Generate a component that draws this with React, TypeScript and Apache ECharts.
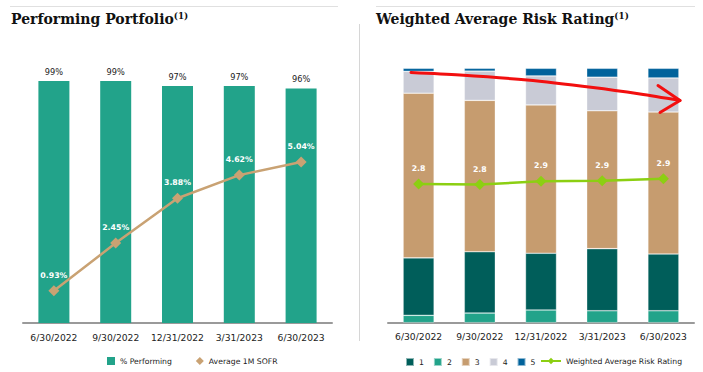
import React, { useEffect, useRef } from "react";
import * as echarts from "echarts";

const categories = ["6/30/2022", "9/30/2022", "12/31/2022", "3/31/2023", "6/30/2023"];
const performingPct = [99, 99, 97, 97, 96];
const sofrPct = [0.93, 2.45, 3.88, 4.62, 5.04];
const rating1 = [22.6, 24.1, 22.3, 24.4, 22.3];
const rating2 = [2.9, 3.8, 5.0, 4.7, 4.7];
const rating3 = [64.7, 59.5, 58.3, 54.2, 55.8];
const rating4 = [8.6, 11.5, 11.4, 13.2, 13.4];
const rating5 = [1.2, 1.1, 3.0, 3.5, 3.8];
const weightedAvgRating = [2.8, 2.79, 2.86, 2.87, 2.91];

const SANS = "DejaVu Sans";
const SERIF = "DejaVu Serif";

const C_TEAL = "#22A38A";
const C_DARK = "#005E5A";
const C_TAN = "#C69C6F";
const C_LAV = "#C9CBD6";
const C_BLUE = "#00629B";
const C_SOFR = "#C9A273";
const C_GREEN = "#8CCF12";

function buildOption(): any {
  const axisLabel = { interval: 0, margin: 10, fontSize: 9.2, color: "#222", fontFamily: SANS };
  const axisLine = { lineStyle: { color: "#9A9A9A", width: 2 } };
  const whiteLabel = {
    show: true,
    position: "top",
    distance: 6,
    color: "#fff",
    fontFamily: SANS,
    fontWeight: "bold",
    fontSize: 7.8,
  };
  const stackBar = (name: string, data: number[], color: string) => ({
    name,
    type: "bar",
    stack: "rating",
    xAxisIndex: 1,
    yAxisIndex: 2,
    barWidth: 31,
    data,
    itemStyle: { color, borderColor: "rgba(255,255,255,0.55)", borderWidth: 0.6 },
  });
  const titleRich = {
    t: { fontFamily: SERIF, fontWeight: "bold", fontSize: 14, fill: "#111", color: "#111" },
    s: { fontFamily: SERIF, fontWeight: "bold", fontSize: 8.8, fill: "#111", color: "#111", verticalAlign: "top" },
  };
  const legendText = { fontFamily: SANS, fontSize: 7.7, color: "#222" };
  return {
    animation: false,
    backgroundColor: "#fff",
    grid: [
      { left: 23, top: 78.6, width: 309, height: 244.4 },
      { left: 388, top: 68.3, width: 306, height: 254.4 },
    ],
    xAxis: [
      { gridIndex: 0, type: "category", data: categories, axisLine, axisTick: { show: false }, axisLabel },
      { gridIndex: 1, type: "category", data: categories, axisLine, axisTick: { show: false }, axisLabel: { ...axisLabel, margin: 9.5 } },
    ],
    yAxis: [
      { gridIndex: 0, type: "value", min: 0, max: 100, show: false },
      { gridIndex: 0, type: "value", min: -0.1, max: 7.7, show: false },
      { gridIndex: 1, type: "value", min: 0, max: 100, show: false },
      { gridIndex: 1, type: "value", min: 0, max: 5.14, show: false },
    ],
    legend: [
      {
        left: 107,
        top: 357,
        padding: 0,
        itemWidth: 8,
        itemHeight: 8,
        itemGap: 24,
        selectedMode: false,
        textStyle: legendText,
        data: [
          { name: "% Performing", icon: "rect" },
          { name: "Average 1M SOFR", icon: "diamond" },
        ],
      },
      {
        left: 405,
        top: 357,
        padding: 0,
        itemWidth: 8,
        itemHeight: 8,
        itemGap: 9,
        selectedMode: false,
        textStyle: legendText,
        data: ["1", "2", "3", "4", "5"].map((n) => ({ name: n, icon: "rect" })),
      },
      {
        left: 540,
        top: 357,
        padding: 0,
        itemWidth: 20,
        itemHeight: 8,
        selectedMode: false,
        textStyle: legendText,
        data: ["Weighted Average Risk Rating"],
      },
    ],
    series: [
      {
        name: "% Performing",
        type: "bar",
        xAxisIndex: 0,
        yAxisIndex: 0,
        barWidth: 31,
        data: performingPct,
        itemStyle: { color: C_TEAL },
        label: {
          show: true,
          position: "top",
          distance: 5,
          formatter: "{c}%",
          color: "#222",
          fontFamily: SANS,
          fontSize: 8.2,
        },
      },
      {
        name: "Average 1M SOFR",
        type: "line",
        xAxisIndex: 0,
        yAxisIndex: 1,
        data: sofrPct,
        symbol: "diamond",
        symbolSize: 11,
        itemStyle: { color: C_SOFR },
        lineStyle: { color: C_SOFR, width: 2.5 },
        label: { ...whiteLabel, formatter: (p: any) => p.value.toFixed(2) + "%" },
        z: 5,
      },
      stackBar("2", rating2, C_TEAL),
      stackBar("1", rating1, C_DARK),
      stackBar("3", rating3, C_TAN),
      stackBar("4", rating4, C_LAV),
      stackBar("5", rating5, C_BLUE),
      {
        name: "Weighted Average Risk Rating",
        type: "line",
        xAxisIndex: 1,
        yAxisIndex: 3,
        data: weightedAvgRating,
        symbol: "diamond",
        symbolSize: 11,
        itemStyle: { color: C_GREEN },
        lineStyle: { color: C_GREEN, width: 2.5 },
        label: { ...whiteLabel, formatter: (p: any) => p.value.toFixed(1) },
        z: 5,
      },
    ],
    graphic: [
      { type: "line", shape: { x1: 10, y1: 6.5, x2: 338, y2: 6.5 }, style: { stroke: "#E0E0E0", lineWidth: 1 }, silent: true },
      { type: "line", shape: { x1: 376, y1: 6.5, x2: 695, y2: 6.5 }, style: { stroke: "#E0E0E0", lineWidth: 1 }, silent: true },
      { type: "line", shape: { x1: 359.5, y1: 24, x2: 359.5, y2: 341 }, style: { stroke: "#D6D6D6", lineWidth: 1 }, silent: true },
      {
        type: "text",
        x: 11,
        y: 11.5,
        style: { text: "{t|Performing Portfolio}{s|(1)}", rich: titleRich, verticalAlign: "top" },
        silent: true,
      },
      {
        type: "text",
        x: 376,
        y: 11.5,
        style: { text: "{t|Weighted Average Risk Rating}{s|(1)}", rich: titleRich, verticalAlign: "top" },
        silent: true,
      },
      {
        type: "polyline",
        z: 100,
        shape: {
          points: [
            [411, 72.5],
            [460, 75],
            [527, 80],
            [593, 87.5],
            [640, 94],
            [680, 100.5],
          ],
          smooth: 0.3,
        },
        style: { stroke: "#F20F0F", lineWidth: 3, fill: null, lineCap: "round", lineJoin: "round" },
        silent: true,
      },
      {
        type: "polyline",
        z: 100,
        shape: { points: [[658, 85.5], [680, 100.5], [660, 112.5]] },
        style: { stroke: "#F20F0F", lineWidth: 3, fill: null, lineCap: "round", lineJoin: "round" },
        silent: true,
      },
    ],
  };
}

export default function App() {
  const ref = useRef<HTMLDivElement>(null);
  useEffect(() => {
    if (!ref.current) return;
    const chart = echarts.init(ref.current, null, { renderer: "svg" });
    chart.setOption(buildOption());
    return () => chart.dispose();
  }, []);
  return (
    <div
      ref={ref}
      style={{ position: "fixed", left: 0, top: 0, width: 703, height: 372, background: "#fff" }}
    />
  );
}
